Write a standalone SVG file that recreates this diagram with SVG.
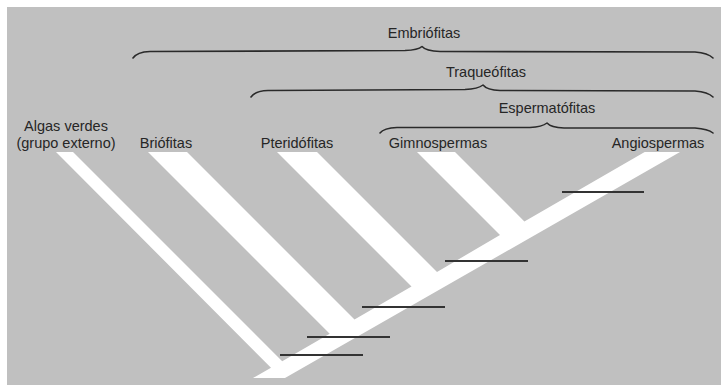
<svg xmlns="http://www.w3.org/2000/svg" width="721" height="385" viewBox="0 0 721 385">
  <style>
    .lbl { font-family: "Liberation Sans", Arial, sans-serif; font-size: 14.5px; fill: #262626; text-anchor: middle; }
    .brace { fill: none; stroke: #2a2a2a; stroke-width: 1.6; stroke-linecap: round; stroke-linejoin: round; }
    .mark { stroke: #333333; stroke-width: 2; }
    .branch { fill: #ffffff; }
  </style>
  <rect x="0" y="0" width="721" height="385" fill="#ffffff"/>
  <rect x="7" y="7" width="714" height="378" fill="#c0c0c0"/>

  <g id="connectors">
    <polygon class="branch" points="253,378 271,367.7 56,152 73,152 282.2,361.2 329.7,333.7 148,152 187,152 354.5,319.5 411.5,286.5 277,152 317,152 437,272 500,235 417,152 455,152 524.4,221.4 644.7,152 680,152 285,378"/>
    <g id="marks">
      <line class="mark" x1="280" y1="355" x2="363" y2="355"/>
      <line class="mark" x1="307" y1="337" x2="390" y2="337"/>
      <line class="mark" x1="362" y1="307" x2="445" y2="307"/>
      <line class="mark" x1="445" y1="261" x2="528" y2="261"/>
      <line class="mark" x1="562" y1="192" x2="644" y2="192"/>
    </g>
  </g>

  <g id="embriofitas">
    <path class="brace" d="M133,58 Q137,52 150,51.5 L405,50.5 Q418,50 422,46.5 Q426,51 440,51.5 L695,52 Q708,53 713,58"/>
    <text class="lbl" x="424" y="38">Embriófitas</text>
  </g>
  <g id="traqueofitas">
    <path class="brace" d="M251,97 Q255,91 268,90.5 L465,89.5 Q478,89 483,85 Q487,90 500,90.5 L695,91 Q708,92 713,97"/>
    <text class="lbl" x="486" y="77">Traqueófitas</text>
  </g>
  <g id="espermatofitas">
    <path class="brace" d="M380,133 Q384,128 397,127.5 L530,127.5 Q542,127 547,123 Q551,127.5 564,128 L695,128 Q708,129 713,133"/>
    <text class="lbl" x="547" y="113">Espermatófitas</text>
  </g>

  <g id="algas">
    <text class="lbl" x="66" y="131">Algas verdes</text>
    <text class="lbl" x="66" y="148">(grupo externo)</text>
  </g>
  <g id="briofitas">
    <text class="lbl" x="166" y="148">Briófitas</text>
  </g>
  <g id="pteridofitas">
    <text class="lbl" x="297" y="148">Pteridófitas</text>
  </g>
  <g id="gimnospermas">
    <text class="lbl" x="438" y="148">Gimnospermas</text>
  </g>
  <g id="angiospermas">
    <text class="lbl" x="658" y="148">Angiospermas</text>
  </g>
</svg>
